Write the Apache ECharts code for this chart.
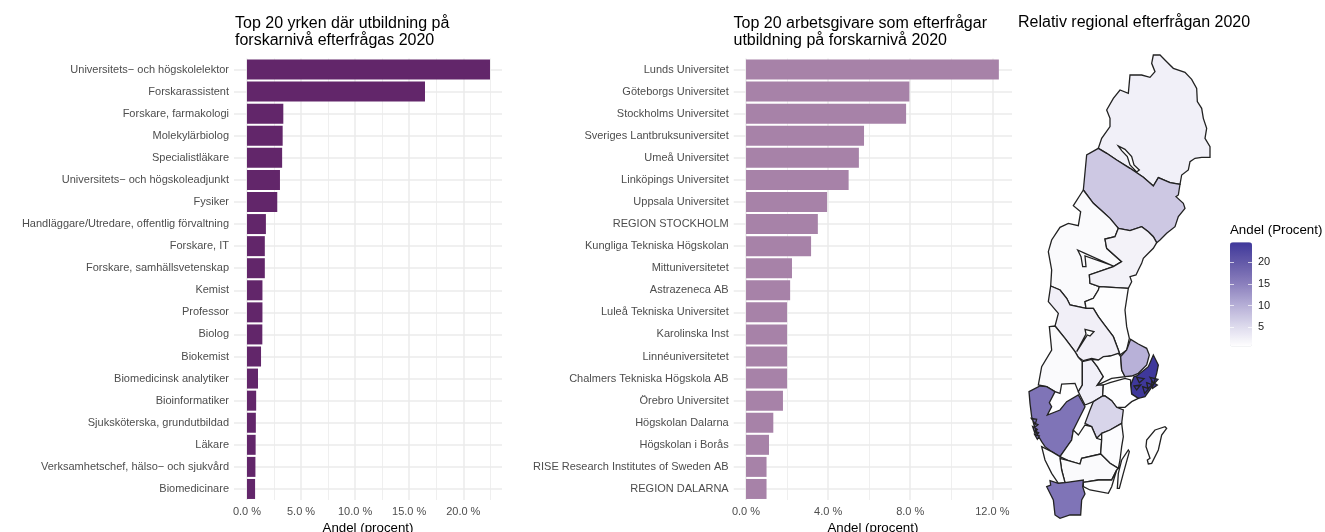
<!DOCTYPE html>
<html>
<head>
<meta charset="utf-8">
<style>
  html, body { margin: 0; padding: 0; background: #fff; }
  #chart { width: 1325px; height: 532px; }
</style>
<script src="https://cdn.jsdelivr.net/npm/echarts@6/dist/echarts.min.js"></script>
</head>
<body>
<div id="chart"></div>
<script>
// yrken (vänster panel)
const occupations = ['Universitets− och högskolelektor', 'Forskarassistent', 'Forskare, farmakologi', 'Molekylärbiolog', 'Specialistläkare', 'Universitets− och högskoleadjunkt', 'Fysiker', 'Handläggare/Utredare, offentlig förvaltning', 'Forskare, IT', 'Forskare, samhällsvetenskap', 'Kemist', 'Professor', 'Biolog', 'Biokemist', 'Biomedicinsk analytiker', 'Bioinformatiker', 'Sjuksköterska, grundutbildad', 'Läkare', 'Verksamhetschef, hälso− och sjukvård', 'Biomedicinare']
const occupationShare = [22.47, 16.46, 3.36, 3.3, 3.25, 3.05, 2.8, 1.75, 1.65, 1.65, 1.43, 1.43, 1.42, 1.3, 1.02, 0.85, 0.82, 0.8, 0.78, 0.75]
const occupationTicks = [0, 5, 10, 15, 20]
const occupationMinor = [2.5, 7.5, 12.5, 17.5, 22.5]

// arbetsgivare (mittenpanel)
const employers = ['Lunds Universitet', 'Göteborgs Universitet', 'Stockholms Universitet', 'Sveriges Lantbruksuniversitet', 'Umeå Universitet', 'Linköpings Universitet', 'Uppsala Universitet', 'REGION STOCKHOLM', 'Kungliga Tekniska Högskolan', 'Mittuniversitetet', 'Astrazeneca AB', 'Luleå Tekniska Universitet', 'Karolinska Inst', 'Linnéuniversitetet', 'Chalmers Tekniska Högskola AB', 'Örebro Universitet', 'Högskolan Dalarna', 'Högskolan i Borås', 'RISE Research Institutes of Sweden AB', 'REGION DALARNA']
const employerShare = [12.32, 7.96, 7.8, 5.75, 5.5, 5.0, 3.95, 3.5, 3.17, 2.24, 2.15, 2.0, 2.0, 2.0, 2.0, 1.8, 1.33, 1.12, 1.0, 1.0]
const employerTicks = [0, 4, 8, 12]
const employerMinor = [2, 6, 10]

// län (karta)
const counties = ['Norrbotten', 'Västerbotten', 'Jämtland', 'Västernorrland', 'Gävleborg', 'Dalarna', 'Värmland', 'Örebro', 'Västmanland', 'Uppsala', 'Stockholm', 'Södermanland', 'Östergötland', 'Västra Götaland', 'Jönköping', 'Kalmar', 'Kronoberg', 'Halland', 'Blekinge', 'Skåne', 'Gotland']
const countyShare = [2.4, 7.2, 1.2, 2.2, 0.8, 2.5, 1.2, 2.4, 0.8, 9.8, 24.6, 0.6, 5.8, 16.5, 0.8, 0.9, 1.2, 0.8, 0.9, 16.5, 0.7]
const legendTicks = [5, 10, 15, 20]

// kartans konturer, ungefärliga, y nedåt. south() flyttar punkter från södra utsnittet
const south = pts => pts.map(p => [p[0], p[1] + 690])
const shapes = {
  Norrbotten: [[[430,45],[450,45],[470,65],[490,85],[525,97],[545,118],[560,145],[562,185],[575,205],[580,235],[590,265],[585,295],[600,320],[600,352],[575,352],[555,355],[540,365],[535,390],[515,405],[510,433],[480,428],[445,413],[430,438],[400,412],[360,385],[320,360],[290,340],[265,325],[275,295],[300,260],[300,235],[290,210],[310,175],[330,150],[355,160],[360,105],[395,105],[420,112],[435,95],[425,70]],
    [[325,318],[335,332],[352,350],[360,375],[380,396],[388,390],[372,375],[365,350],[345,328]]],
  'Västerbotten': [[[265,325],[290,340],[320,360],[360,385],[400,412],[430,438],[445,413],[480,428],[510,433],[505,465],[498,470],[520,490],[525,505],[505,530],[495,560],[470,580],[450,600],[440,608],[430,590],[415,575],[395,560],[360,572],[325,565],[300,535],[275,512],[250,490],[220,450],[230,345]]],
  'Jämtland': [[[220,450],[190,497],[212,515],[205,557],[175,550],[150,562],[125,600],[115,635],[125,690],[122,738],[150,750],[170,775],[180,795],[228,805],[225,785],[250,775],[265,750],[268,740],[240,730],[238,705],[310,680],[335,665],[290,625],[285,597],[315,590],[325,565],[300,535],[275,512],[250,490]],
    [[203,630],[213,650],[218,680],[228,680],[225,648],[310,678],[225,640]]],
  'Västernorrland': [[[325,565],[360,572],[395,560],[415,575],[430,590],[440,608],[430,625],[415,640],[400,655],[395,670],[385,690],[378,705],[360,710],[365,725],[355,745],[268,740],[240,730],[238,705],[310,680],[335,665],[290,625],[285,597],[315,590]]],
  'Gävleborg': [[[268,740],[355,745],[345,810],[350,860],[358,895],[350,930],[330,945],[325,930],[310,890],[280,850],[265,830],[250,805],[228,805],[225,785],[250,775],[265,750]]],
  Dalarna: [[[122,738],[150,750],[170,775],[180,795],[228,805],[250,805],[265,830],[280,850],[310,890],[325,930],[330,945],[300,948],[280,955],[265,960],[245,955],[220,962],[205,952],[195,935],[165,895],[135,858],[145,820],[115,785]],
    south([[225,178],[228,192],[200,245],[232,195],[240,198],[252,185]])],
  'Värmland': [south([[118,170],[135,168],[165,205],[195,245],[205,262],[217,275],[217,345],[205,365],[195,340],[155,342],[150,370],[135,365],[110,350],[85,345],[95,290],[125,240]])],
  'Örebro': [south([[217,275],[245,268],[262,290],[280,320],[262,345],[280,345],[278,378],[250,395],[225,405],[205,365],[217,345]])],
  'Västmanland': [south([[245,268],[265,270],[280,260],[300,258],[325,250],[332,260],[335,300],[345,320],[305,325],[262,345],[280,320],[262,290]])],
  Uppsala: [south([[362,208],[385,222],[410,235],[418,255],[410,285],[385,310],[365,318],[345,320],[335,300],[332,260],[350,240]])],
  Stockholm: [south([[380,318],[415,290],[430,255],[445,285],[440,310],[430,345],[405,380],[385,385],[365,372],[362,345],[372,320]])],
  'Södermanland': [south([[280,345],[300,338],[345,325],[362,330],[362,345],[365,372],[385,385],[365,395],[345,412],[320,412],[305,392],[285,378],[278,378]])],
  'Östergötland': [south([[278,378],[285,378],[305,392],[320,412],[340,420],[335,460],[300,480],[275,490],[260,505],[245,470],[225,460],[240,420],[250,395]])],
  'Västra Götaland': [south([[57,365],[90,348],[110,350],[135,365],[118,398],[125,410],[112,435],[150,420],[170,395],[205,375],[225,410],[205,450],[190,480],[185,510],[150,560],[125,545],[105,530],[95,515],[80,490],[65,440],[60,400]])],
  'Jönköping': [south([[150,560],[185,510],[190,480],[205,495],[225,465],[245,470],[260,505],[275,510],[272,552],[215,565],[210,582],[175,572]])],
  Kalmar: [south([[275,490],[300,480],[335,460],[340,500],[335,530],[330,570],[325,595],[300,580],[272,552],[275,510]])],
  Kronoberg: [south([[175,572],[210,582],[215,565],[272,552],[300,580],[325,595],[320,600],[305,630],[265,630],[220,637],[165,638],[155,600],[150,565]])],
  Halland: [south([[95,530],[125,545],[150,560],[150,565],[155,600],[165,638],[145,640],[125,610],[105,570]])],
  Blekinge: [south([[220,637],[265,630],[305,630],[320,600],[305,650],[295,670],[240,660],[220,650]])],
  'Skåne': [south([[120,632],[145,640],[165,638],[220,630],[218,650],[225,672],[215,690],[212,735],[180,735],[150,745],[135,735],[130,690],[110,650],[122,645]])],
  Gotland: [south([[435,480],[465,470],[470,475],[455,495],[445,540],[425,580],[415,582],[412,570],[420,565],[408,530],[410,510]])]
}
// öar utan eget län
const oland = south([[355,540],[358,545],[340,610],[328,655],[322,655],[325,610],[335,570]])
const bohuslan = [
  [[64,445],[80,448],[76,462]], [[70,458],[84,464],[74,472]], [[68,470],[82,478],[74,488]],
  [[72,482],[86,488],[78,498]], [[74,494],[88,498],[82,508]]
].map(south)
const skargard = [
  [[420,322],[444,328],[432,342]], [[425,335],[442,345],[428,355]], [[410,338],[426,344],[414,356]],
  [[398,350],[416,356],[404,370]], [[380,322],[402,326],[388,338]], [[372,348],[392,345],[380,360]]
].map(south)

const flip = ring => ring.map(p => [p[0], -p[1]])
const features = counties.map(name => ({
  type: 'Feature',
  properties: { name },
  geometry: { type: 'Polygon', coordinates: shapes[name].map(flip) }
}))
function addIslands(name, rings) {
  features[counties.indexOf(name)].geometry = {
    type: 'MultiPolygon',
    coordinates: [[flip(shapes[name][0])], ...rings.map(r => [flip(r)])]
  }
}
addIslands('Kalmar', [oland])
addIslands('Västra Götaland', bohuslan)
addIslands('Stockholm', skargard)
echarts.registerMap('sverige', { type: 'FeatureCollection', features })

const gridColor = '#ebebeb'
const labelFont = 'Liberation Sans, Arial, sans-serif'

function majorAxis(gridIndex, min, max, ticks) {
  return {
    type: 'value', gridIndex, min, max,
    name: 'Andel (procent)', nameLocation: 'middle', nameGap: 20,
    nameTextStyle: { color: '#000', fontSize: 13.3, fontFamily: labelFont },
    axisLine: { show: false },
    axisTick: { show: false, customValues: ticks },
    axisLabel: {
      customValues: ticks, margin: 6, color: '#4d4d4d', fontSize: 11, fontFamily: labelFont,
      formatter: v => v.toFixed(1) + ' %'
    },
    splitLine: { show: true, lineStyle: { color: gridColor, width: 1.5 } }
  }
}
function minorAxis(gridIndex, min, max, ticks) {
  return {
    type: 'value', gridIndex, min, max,
    axisLine: { show: false },
    axisTick: { show: false, customValues: ticks },
    axisLabel: { show: false, customValues: ticks },
    splitLine: { show: true, lineStyle: { color: gridColor, width: 0.8 } }
  }
}
function categoryAxis(gridIndex, data) {
  return {
    type: 'category', gridIndex, data, inverse: true,
    axisLine: { show: false },
    axisTick: { show: false },
    axisLabel: { interval: 0, margin: 5, color: '#4d4d4d', fontSize: 11, fontFamily: labelFont },
    splitLine: { show: true, alignWithLabel: true, interval: 0, lineStyle: { color: gridColor, width: 1.5 } }
  }
}
function legendAxis(position, showLabel) {
  return {
    type: 'value', gridIndex: 2, position, min: 0.52, max: 24.6, z: 10,
    axisLine: { show: false },
    axisTick: { show: true, inside: true, length: 4, customValues: legendTicks, lineStyle: { color: '#fff', width: 0.7 } },
    axisLabel: { show: showLabel, customValues: legendTicks, margin: 6, color: '#222', fontSize: 11, fontFamily: labelFont },
    splitLine: { show: false }
  }
}

const myChart = echarts.init(document.getElementById('chart'), null, { renderer: 'canvas' })
myChart.setOption({
  animation: false,
  backgroundColor: '#fff',
  title: [
    { text: 'Top 20 yrken där utbildning på\nforskarnivå efterfrågas 2020', left: 235, top: 15 },
    { text: 'Top 20 arbetsgivare som efterfrågar\nutbildning på forskarnivå 2020', left: 733.5, top: 15 },
    { text: 'Relativ regional efterfrågan 2020', left: 1018, top: 14 },
    { text: 'Andel (Procent)', left: 1230, top: 224, textStyle: { fontSize: 13.3, fontWeight: 'normal', color: '#000', fontFamily: labelFont } }
  ].map(t => ({
    padding: 0,
    textStyle: { fontSize: 16, lineHeight: 17, fontWeight: 'normal', color: '#000', fontFamily: labelFont },
    ...t
  })),
  grid: [
    { left: 234, top: 58.5, width: 268, height: 441.5, outerBoundsMode: 'none' },
    { left: 733.7, top: 58.5, width: 278.3, height: 441.5, outerBoundsMode: 'none' },
    { left: 1230, top: 242.3, width: 22, height: 104.4, outerBoundsMode: 'none' }
  ],
  xAxis: [
    majorAxis(0, -1.2, 23.58, occupationTicks),
    minorAxis(0, -1.2, 23.58, occupationMinor),
    majorAxis(1, -0.6, 12.96, employerTicks),
    minorAxis(1, -0.6, 12.96, employerMinor),
    { type: 'value', gridIndex: 2, show: false, min: 0, max: 1 }
  ],
  yAxis: [
    categoryAxis(0, occupations),
    categoryAxis(1, employers),
    legendAxis('left', false),
    legendAxis('right', true)
  ],
  visualMap: {
    type: 'continuous', seriesIndex: 2, min: 0.52, max: 24.6,
    left: 1230, top: 242.3, itemWidth: 22, itemHeight: 104.4, padding: 0,
    text: null, showLabel: false, calculable: false, hoverLink: false, silent: true,
    inRange: { color: ['#ffffff', '#dcd9ec', '#b5aed6', '#8b80bd', '#655ba9', '#3f389b'] }
  },
  series: [
    {
      type: 'bar', xAxisIndex: 0, yAxisIndex: 0, data: occupationShare, barWidth: 20,
      itemStyle: { color: '#62266a' }, silent: true
    },
    {
      type: 'bar', xAxisIndex: 2, yAxisIndex: 1, data: employerShare, barWidth: 20,
      itemStyle: { color: '#a782a8' }, silent: true
    },
    {
      type: 'map', map: 'sverige', silent: true, roam: false,
      aspectScale: 1,
      boundingCoords: [[0, 0], [600, -1470]],
      left: 1010, top: 40, width: 200, height: 490,
      data: counties.map((name, i) => ({ name, value: countyShare[i] })),
      label: { show: false },
      itemStyle: { borderColor: '#222', borderWidth: 1.3 },
      emphasis: { disabled: true },
      select: { disabled: true }
    }
  ]
})
</script>
</body>
</html>
